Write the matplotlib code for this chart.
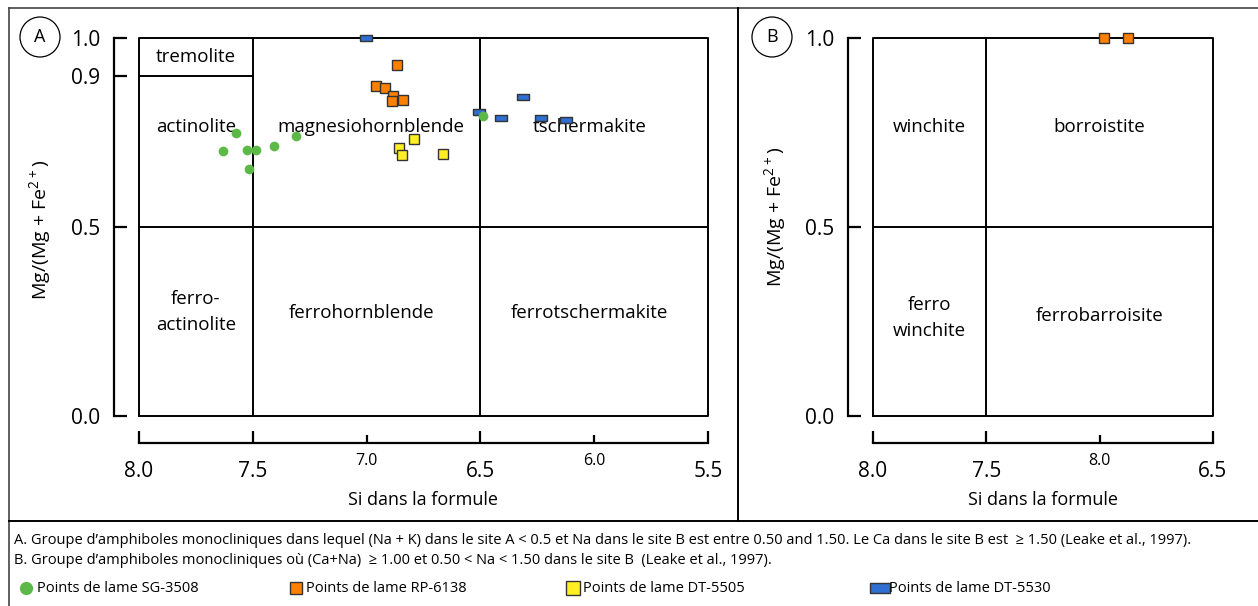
import matplotlib
matplotlib.use('Agg')
import matplotlib.pyplot as plt
from matplotlib.lines import Line2D
from matplotlib.patches import Ellipse
from matplotlib.ticker import FixedLocator, FixedFormatter

plt.rcParams['font.family'] = ['Open Sans', 'DejaVu Sans']
plt.rcParams['mathtext.default'] = 'regular'

# data
sg_si = [7.574, 7.631, 7.525, 7.486, 7.407, 7.310, 7.517, 6.489]
sg_mg = [0.749, 0.701, 0.704, 0.704, 0.714, 0.741, 0.653, 0.794]
rp_si = [6.866, 6.959, 6.919, 6.884, 6.888, 6.840]
rp_mg = [0.929, 0.873, 0.868, 0.847, 0.833, 0.836]
dt05_si = [6.792, 6.858, 6.844, 6.664]
dt05_mg = [0.733, 0.709, 0.690, 0.693]
dt30_si = [7.003, 6.506, 6.410, 6.313, 6.234, 6.124]
dt30_mg = [1.0, 0.804, 0.788, 0.844, 0.788, 0.783]
rp_b_si = [6.98, 6.875]
rp_b_mg = [1.0, 1.0]

a_fields = ['tremolite', 'actinolite', 'magnesiohornblende', 'tschermakite',
            'ferro-\nactinolite', 'ferrohornblende', 'ferrotschermakite']
a_field_pos = [(7.75, 0.95), (7.75, 0.765), (6.98, 0.765), (6.02, 0.765),
               (7.75, 0.275), (7.02, 0.272), (6.02, 0.272)]
b_fields = ['winchite', 'borroistite', 'ferro\nwinchite', 'ferrobarroisite']
b_field_pos = [(7.75, 0.765), (7.0, 0.765), (7.75, 0.26), (7.0, 0.265)]

a_yticks = [0, 0.5, 0.9, 1.0]
b_yticks = [0, 0.5, 1.0]

legend_labels = ['Points de lame SG-3508', 'Points de lame RP-6138',
                 'Points de lame DT-5505', 'Points de lame DT-5530']

note_a = ('A. Groupe d\u2019amphiboles monocliniques dans lequel (Na + K) dans le site A < 0.5 '
          'et Na dans le site B est entre 0.50 and 1.50. Le Ca dans le site B est  \u2265 1.50 '
          '(Leake et al., 1997).')
note_b = ('B. Groupe d\u2019amphiboles monocliniques o\u00f9 (Ca+Na)  \u2265 1.00 et 0.50 < Na < 1.50 '
          'dans le site B  (Leake et al., 1997).')

GREEN = '#5cb947'
ORANGE = '#ff7f00'
YELLOW = '#ffee22'
BLUE = '#2e6fd1'
EDGE = '#333333'
RECT = [(-1, -0.5), (1, -0.5), (1, 0.5), (-1, 0.5), (-1, -0.5)]
FS = 13.5

W, H = 1258, 606
fig = plt.figure(figsize=(W / 100, H / 100), dpi=100)


def fx(x):
    return x / W


def fy(y):
    return 1 - y / H


def setup_axes(ax, xmin, xmax, major, minor, minor_labels, yticks):
    ax.set_xlim(xmin, xmax)
    ax.set_ylim(0, 1)
    ax.patch.set_alpha(0)
    for s in ['top', 'right']:
        ax.spines[s].set_visible(False)
    ax.spines['left'].set_position(('outward', 18))
    ax.spines['bottom'].set_position(('outward', 19.5))
    for s in ['left', 'bottom']:
        ax.spines[s].set_linewidth(1.6)
    ax.set_yticks(yticks)
    ax.set_yticklabels(['%.1f' % v for v in yticks])
    ax.xaxis.set_major_locator(FixedLocator(major))
    ax.xaxis.set_major_formatter(FixedFormatter(['%.1f' % v for v in major]))
    ax.xaxis.set_minor_locator(FixedLocator(minor))
    ax.xaxis.set_minor_formatter(FixedFormatter(minor_labels))
    ax.tick_params(axis='both', which='major', direction='in', length=9, width=1.6,
                   labelsize=15)
    ax.tick_params(axis='y', pad=10)
    ax.tick_params(axis='x', which='major', pad=13)
    ax.tick_params(axis='x', which='minor', direction='in', length=6, width=1.6,
                   labelsize=11.5, pad=7)
    # classification box
    ax.plot([xmin, xmax, xmax, xmin, xmin], [0, 0, 1, 1, 0], color='black', lw=1.4,
            clip_on=False, zorder=1)
    ax.plot([xmin, xmax], [0.5, 0.5], color='black', lw=1.4, zorder=1)
    ax.plot([7.5, 7.5], [0, 1], color='black', lw=1.4, zorder=1)


# panel A
axa = fig.add_axes([fx(139), fy(416), fx(708) - fx(139), fy(38) - fy(416)])
setup_axes(axa, 8.0, 5.5, [8.0, 7.5, 6.5, 5.5], [7.0, 6.0], ['7.0', '6.0'], a_yticks)
axa.plot([6.5, 6.5], [0, 1], color='black', lw=1.4, zorder=1)
axa.plot([8.0, 7.5], [0.9, 0.9], color='black', lw=1.4, zorder=1)
for name, (x, y) in zip(a_fields, a_field_pos):
    axa.text(x, y, name, ha='center', va='center', fontsize=FS, linespacing=1.55)

axa.plot(dt30_si, dt30_mg, ls='none', marker=RECT, ms=9, mfc=BLUE, mec=EDGE,
         mew=1, clip_on=False, zorder=3)
axa.plot(sg_si, sg_mg, ls='none', marker='o', ms=7, mfc=GREEN, mec='none', zorder=4)
axa.plot(rp_si, rp_mg, ls='none', marker='s', ms=7.5, mfc=ORANGE, mec=EDGE, mew=1,
         zorder=3)
axa.plot(dt05_si, dt05_mg, ls='none', marker='s', ms=7.5, mfc=YELLOW, mec=EDGE, mew=1,
         zorder=3)

# panel B
axb = fig.add_axes([fx(873), fy(416), fx(1213) - fx(873), fy(38) - fy(416)])
setup_axes(axb, 8.0, 6.5, [8.0, 7.5, 6.5], [7.0], ['8.0'], b_yticks)
for name, (x, y) in zip(b_fields, b_field_pos):
    axb.text(x, y, name, ha='center', va='center', fontsize=FS, linespacing=1.55)
axb.plot(rp_b_si, rp_b_mg, ls='none', marker='s', ms=7.5, mfc=ORANGE, mec=EDGE, mew=1,
         clip_on=False, zorder=3)

# axis titles
ylab = 'Mg/(Mg + Fe$^{2+}$)'
fig.text(fx(40), fy(230), ylab, rotation=90, ha='center', va='center', fontsize=14)
fig.text(fx(775), fy(217), ylab, rotation=90, ha='center', va='center', fontsize=14)
fig.text(fx(423), fy(500), 'Si dans la formule', ha='center', va='center', fontsize=13)
fig.text(fx(1043), fy(500), 'Si dans la formule', ha='center', va='center', fontsize=13)

# panel letters
for letter, cx in [('A', 40), ('B', 772)]:
    fig.add_artist(Ellipse((fx(cx), fy(37)), 40 / W, 40 / H, transform=fig.transFigure,
                           fill=False, lw=0.9, edgecolor='black'))
    fig.text(fx(cx), fy(37), letter, ha='center', va='center', fontsize=13)

# frame
frame = [([9, 1258], [8, 8], '#444444', 1.2), ([9, 9], [8, 606], '#444444', 1.2),
         ([738, 738], [8, 521], 'black', 1.4), ([9, 1258], [521, 521], 'black', 1.4)]
for xs, ys, c, lw in frame:
    fig.add_artist(Line2D([fx(v) for v in xs], [fy(v) for v in ys], color=c, lw=lw,
                          transform=fig.transFigure))

# notes
fig.text(fx(14), fy(541), note_a, ha='left', va='center', fontsize=10.5)
fig.text(fx(14), fy(561), note_b, ha='left', va='center', fontsize=10.5)

# legend
leg_styles = [dict(marker='o', ms=9.5, mfc=GREEN, mec='none'),
              dict(marker='s', ms=9, mfc=ORANGE, mec=EDGE, mew=1),
              dict(marker='s', ms=10, mfc=YELLOW, mec=EDGE, mew=1),
              dict(marker=RECT, ms=14, mfc=BLUE, mec=EDGE, mew=1)]
leg_x = [26, 296, 573, 880]
leg_tx = [37, 306, 583, 889]
for lab, st, mx, tx in zip(legend_labels, leg_styles, leg_x, leg_tx):
    fig.add_artist(Line2D([fx(mx)], [fy(588)], ls='none', transform=fig.transFigure, **st))
    fig.text(fx(tx), fy(588), lab, ha='left', va='center', fontsize=10.5)

fig.savefig('out.png', dpi=100)
